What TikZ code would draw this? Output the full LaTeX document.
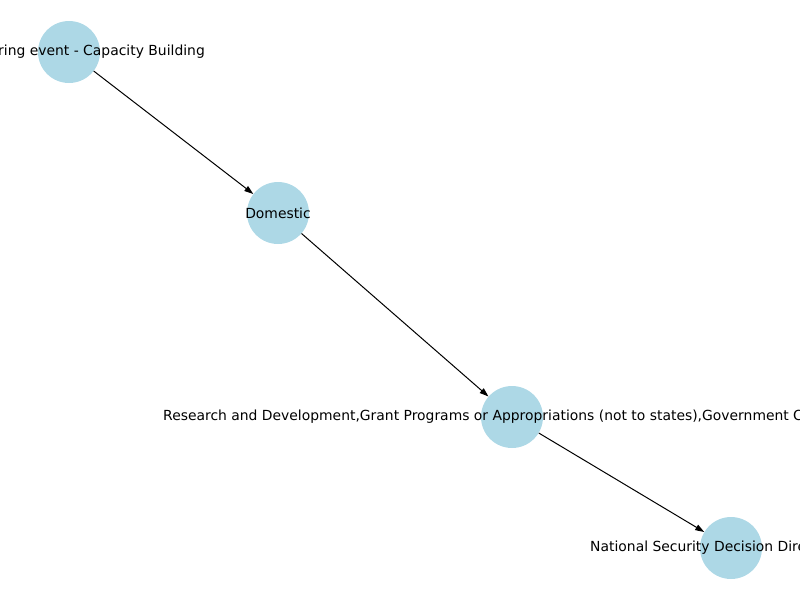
\documentclass[tikz,border=0pt]{standalone}
\usepackage{fontspec}
\setmainfont{DejaVu Sans}
\usetikzlibrary{arrows.meta}
\definecolor{nodeblue}{HTML}{ADD8E6}
\begin{document}
\begin{tikzpicture}[x=1pt,y=-1pt,
  vertex/.style={circle,fill=nodeblue,minimum size=62pt,inner sep=0pt},
  lbl/.style={font=\fontsize{13.9}{16}\selectfont,inner sep=0pt,text=black},
  link/.style={-{Triangle[length=9pt,width=6pt]},line width=1pt,draw=black}]
\useasboundingbox (0,0) rectangle (800,600);
\clip (0,0) rectangle (800,600);

% vertices
\node[vertex] (a) at (69,52) {};
\node[vertex] (b) at (278,213) {};
\node[vertex] (c) at (512,417) {};
\node[vertex] (d) at (731,548) {};

% directed links
\draw[link] (a) -- (b);
\draw[link] (b) -- (c);
\draw[link] (c) -- (d);

% labels (long ones run past the page edge)
\node[lbl,anchor=east] (la) at (205,52) {ring event - Capacity Building};
\node[lbl] (lb) at (278,213) {Domestic};
\node[lbl,anchor=west] (lc) at (163,417) {Research and Development,Grant Programs or Appropriations (not to states),Government C};
\node[lbl,anchor=west] (ld) at (590,548) {National Security Decision Dire};
\end{tikzpicture}
\end{document}
